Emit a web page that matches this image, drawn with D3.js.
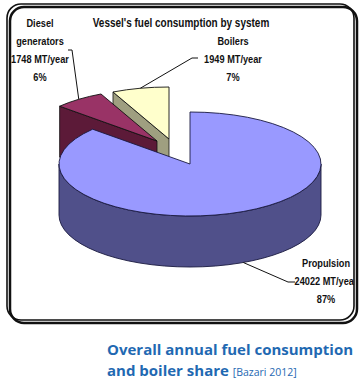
<!DOCTYPE html>
<html lang="en">

<head>
  <meta charset="utf-8">
  <title>Vessel's fuel consumption by system</title>
  <style>
    body {
      margin: 0;
      background: #fff;
    }

    .narrow {
      font-family: "Liberation Sans Narrow", "Arial Narrow", "Liberation Sans", sans-serif;
      font-weight: bold;
      fill: #111;
    }

    .caption {
      font-family: "Open Sans", Lato, sans-serif;
      fill: #1f69b2;
    }
  </style>
</head>

<body>
  <div id="chart"></div>
</body>
<script src="https://d3js.org/d3.v7.min.js"></script>

<script>

  // data
  let categories = ["Propulsion", "Diesel generators", "Boilers"];
  let values = [24022, 1748, 1949];
  let labelLines = [
    ["Propulsion"],
    ["Diesel", "generators"],
    ["Boilers"]
  ];

  let w = 363;
  let h = 383;
  let squeeze = 0.8; // fake a narrow font

  // pie geometry (3d ellipse)
  let cx = 190, cy = 164, rx = 131, ry = 52, depth = 51;
  let explode = [[0, 0], [-33, -23], [-21, -25]];

  let topColor = d3.scaleOrdinal().domain(categories).range(["#9999ff", "#993366", "#ffffcc"]);
  let sideColor = d3.scaleOrdinal().domain(categories).range(["#50508a", "#5c1a38", "#9f9f80"]);

  let svg = d3.select("#chart")
    .append("svg")
    .attr("width", w)
    .attr("height", h);

  // clip for the framed chart
  svg.append("clipPath")
    .attr("id", "frameClip")
    .append("rect")
    .attr("x", 8).attr("y", 5).attr("width", 346).attr("height", 314).attr("rx", 13);

  let chart = svg.append("g").attr("clip-path", "url(#frameClip)");

  let pie = d3.pie().sort(null).value((d) => d)(values);
  let total = d3.sum(values);
  let pct = (v) => Math.round(v / total * 100) + "%";

  function pt(a, dx, dy, down) {
    return [cx + dx + rx * Math.sin(a), cy + dy - ry * Math.cos(a) + (down || 0)];
  }

  function topPath(s, dx, dy) {
    let p0 = pt(s.startAngle, dx, dy), p1 = pt(s.endAngle, dx, dy);
    let large = (s.endAngle - s.startAngle) > Math.PI ? 1 : 0;
    return "M" + (cx + dx) + "," + (cy + dy) + "L" + p0 + "A" + rx + "," + ry + " 0 " + large + " 1 " + p1 + "Z";
  }

  function wallPath(s, dx, dy) {
    let a0 = Math.max(s.startAngle, Math.PI / 2);
    let a1 = Math.min(s.endAngle, Math.PI * 3 / 2);
    if (a1 <= a0) return null;
    let p0 = pt(a0, dx, dy), p1 = pt(a1, dx, dy);
    let q0 = pt(a0, dx, dy, depth), q1 = pt(a1, dx, dy, depth);
    return "M" + p0 + "A" + rx + "," + ry + " 0 0 1 " + p1 + "L" + q1 +
      "A" + rx + "," + ry + " 0 0 0 " + q0 + "Z";
  }

  // radial cut face at the start angle
  function cutPath(a, dx, dy) {
    let p = pt(a, dx, dy);
    let c = [cx + dx, cy + dy];
    return "M" + c + "L" + p + "L" + [p[0], p[1] + depth] + "L" + [c[0], c[1] + depth] + "Z";
  }

  // back slices first
  let order = [2, 1, 0];
  order.forEach((i) => {
    let s = pie[i];
    let dx = explode[i][0], dy = explode[i][1];
    let g = chart.append("g");
    if (Math.sin(s.startAngle) < 0 && i > 0) {
      g.append("path")
        .attr("d", cutPath(s.startAngle, dx, dy))
        .attr("fill", sideColor(categories[i]))
        .attr("stroke", "#111")
        .attr("stroke-width", 0.8)
        .attr("stroke-linejoin", "round");
    }
    let wp = wallPath(s, dx, dy);
    if (wp) {
      g.append("path")
        .attr("d", wp)
        .attr("fill", sideColor(categories[i]))
        .attr("stroke", "#1a1a40")
        .attr("stroke-width", 0.9);
    }
    g.append("path")
      .attr("d", topPath(s, dx, dy))
      .attr("fill", topColor(categories[i]))
      .attr("stroke", i == 0 ? "#1a1a40" : "#111")
      .attr("stroke-width", 0.9)
      .attr("stroke-linejoin", "round");
  });

  function narrowText(x, y, size, lines) {
    let t = chart.append("g")
      .attr("transform", "translate(" + x + "," + y + ") scale(" + squeeze + ",1)")
      .append("text")
      .attr("class", "narrow")
      .attr("text-anchor", "middle")
      .style("font-size", size + "px");
    lines.forEach((l, k) => {
      t.append("tspan")
        .attr("x", 0)
        .attr("y", k * 18)
        .text(l);
    });
  }

  // title
  narrowText(181, 27, 12.5, ["Vessel's fuel consumption by system"]);

  // data labels
  let labelPos = [[326, 267], [40, 27], [233, 45]];
  let leaderEnd = [[295, 282], [68, 50], [198, 58]];
  let leaderKnee = [[288, 282], [72, 50], [192, 58]];

  pie.forEach((s, i) => {
    let lines = labelLines[i].concat([values[i] + " MT/year", pct(values[i])]);
    narrowText(labelPos[i][0], labelPos[i][1], 11.5, lines);

    let mid = (s.startAngle + s.endAngle) / 2;
    let anchor = pt(mid, explode[i][0], explode[i][1], i == 0 ? depth : 0);
    chart.append("path")
      .attr("d", "M" + anchor + "L" + leaderKnee[i] + "L" + leaderEnd[i])
      .attr("fill", "none")
      .attr("stroke", "#111")
      .attr("stroke-width", 1);
  });

  // frame with shadow
  svg.append("rect")
    .attr("x", 10).attr("y", 7).attr("width", 347).attr("height", 316).attr("rx", 14)
    .attr("fill", "none").attr("stroke", "#111").attr("stroke-width", 2.5);
  svg.append("rect")
    .attr("x", 7).attr("y", 4).attr("width", 347).attr("height", 316).attr("rx", 14)
    .attr("fill", "none").attr("stroke", "#111").attr("stroke-width", 1.6);

  // caption
  let cap = svg.append("text")
    .attr("class", "caption")
    .attr("x", 107)
    .attr("y", 355)
    .style("font-size", "15px")
    .style("font-weight", "bold");
  cap.append("tspan").text("Overall annual fuel consumption");
  let cap2 = svg.append("text")
    .attr("class", "caption")
    .attr("x", 107)
    .attr("y", 376)
    .style("font-size", "15px")
    .style("font-weight", "bold");
  cap2.append("tspan").text("and boiler share ");
  cap2.append("tspan")
    .style("font-size", "10.5px")
    .style("font-weight", "normal")
    .text("[Bazari 2012]");

</script>

</html>
